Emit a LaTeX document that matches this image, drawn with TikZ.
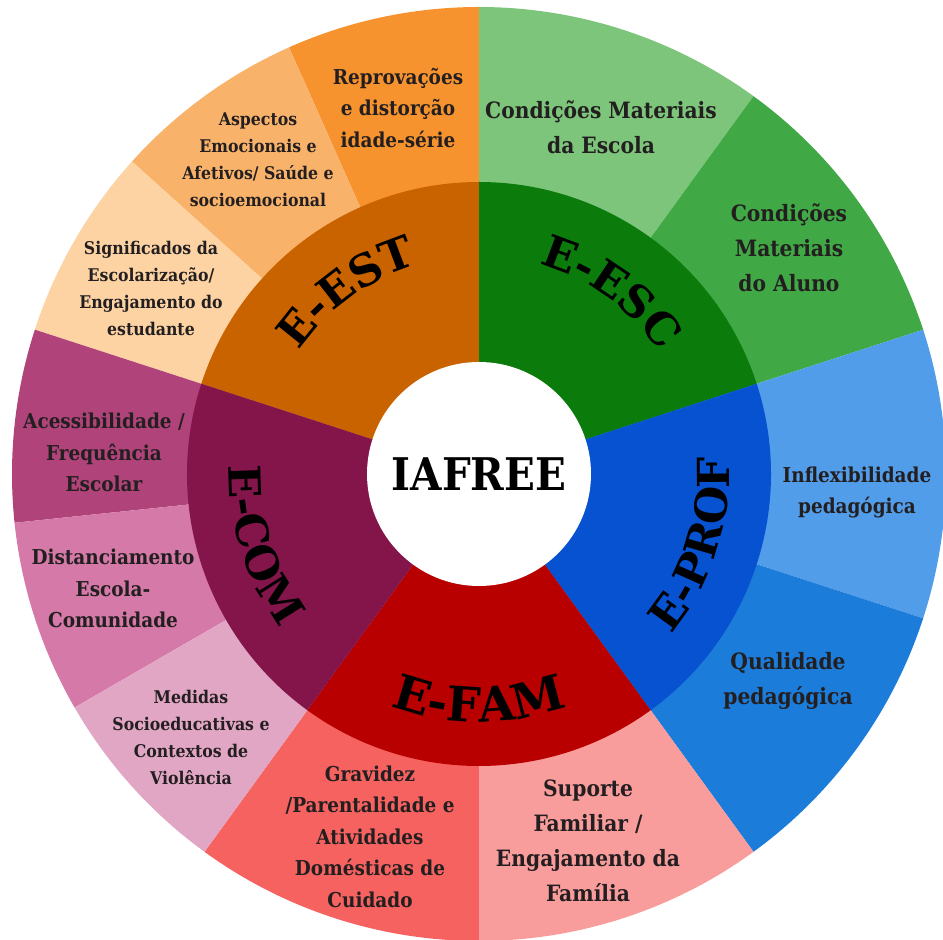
\documentclass[tikz,border=0pt]{standalone}
\usepackage{fontspec}
\setmainfont{DejaVu Serif}
\newfontfamily\condfont{DejaVu Serif Condensed}
\usetikzlibrary{decorations.text}
\definecolor{tcol}{HTML}{231F20}
\definecolor{estA}{HTML}{F7932E}
\definecolor{estB}{HTML}{F9B26A}
\definecolor{estC}{HTML}{FDD3A4}
\definecolor{estI}{HTML}{C96300}
\definecolor{escA}{HTML}{7DC57A}
\definecolor{escB}{HTML}{40A845}
\definecolor{escI}{HTML}{0B7B0B}
\definecolor{profA}{HTML}{519DE9}
\definecolor{profB}{HTML}{1C7CDA}
\definecolor{profI}{HTML}{0652D1}
\definecolor{famA}{HTML}{F5625F}
\definecolor{famB}{HTML}{F99C9C}
\definecolor{famI}{HTML}{B80000}
\definecolor{comA}{HTML}{B0437A}
\definecolor{comB}{HTML}{D479A8}
\definecolor{comC}{HTML}{E2A6C5}
\definecolor{comI}{HTML}{83154B}
\newcommand\ringsec[4]{\fill[#1] (C) -- ++(#2:#4) arc[start angle=#2, end angle=#3, radius=#4] -- cycle;}
\newcommand\dimfont{\bfseries\fontsize{44}{44}\selectfont}
\newcommand\dimfontL{\bfseries\fontsize{48}{48}\selectfont}
\newcommand\dimlabel[5]{\path[decorate, decoration={text along path, text align=center, text={|#5|#4}}] ([shift={(C)}]#1:#3) arc[start angle=#1, end angle=#2, radius=#3];}
\begin{document}
\begin{tikzpicture}[x=1pt,y=1pt,
  big/.style={text=tcol, align=center, inner sep=0pt, font={\condfont\bfseries\fontsize{22.5}{35}\selectfont}},
  mid/.style={text=tcol, align=center, inner sep=0pt, font={\condfont\bfseries\fontsize{20.5}{31.5}\selectfont}},
  sml/.style={text=tcol, align=center, inner sep=0pt, font={\condfont\bfseries\fontsize{17.5}{27}\selectfont}}]
\useasboundingbox (0,0) rectangle (943,940);
\coordinate (C) at (479,466);
% outer ring
\ringsec{estA}{90}{114}{467pt}
\ringsec{estB}{114}{138}{467pt}
\ringsec{estC}{138}{162}{467pt}
\ringsec{escA}{54}{90}{467pt}
\ringsec{escB}{18}{54}{467pt}
\ringsec{profA}{-18}{18}{467pt}
\ringsec{profB}{-54}{-18}{467pt}
\ringsec{famA}{234}{270}{467pt}
\ringsec{famB}{270}{306}{467pt}
\ringsec{comA}{162}{186}{467pt}
\ringsec{comB}{186}{210}{467pt}
\ringsec{comC}{210}{234}{467pt}
% inner ring
\ringsec{estI}{90}{162}{292pt}
\ringsec{escI}{18}{90}{292pt}
\ringsec{profI}{-54}{18}{292pt}
\ringsec{famI}{234}{306}{292pt}
\ringsec{comI}{162}{234}{292pt}
% centre
\node[circle, fill=white, minimum size=224pt, inner sep=0pt] (core) at (C) {};
\node[text=black, font={\condfont\bfseries\fontsize{45}{50}\selectfont}] (iaf) at (C) {IAFREE};
% dimension labels, set along arcs
\dimlabel{170}{82}{218pt}{E-EST}{\dimfont}
\dimlabel{98}{10}{218pt}{E-ESC}{\dimfont}
\dimlabel{-62}{26}{250pt}{E-PROF}{\dimfont}
\dimlabel{226}{314}{248pt}{E-FAM}{\dimfontL}
\dimlabel{154}{242}{250pt}{E-COM}{\dimfont}
% outer labels
\node[mid] (rep) at (398,832) {Reprovações\\e distorção\\idade-série};
\node[sml] (asp) at (258,780) {Aspectos\\Emocionais e\\Afetivos/ Saúde e\\socioemocional};
\node[sml] (sig) at (151,652) {Significados da\\Escolarização/\\Engajamento do\\estudante};
\node[big] (cme) at (601,812.5) {Condições Materiais\\da Escola};
\node[big] (cma) at (789,692) {Condições\\Materiais\\do Aluno};
\node[mid] (inf) at (857,447.5) {Inflexibilidade\\pedagógica};
\node[big] (qual) at (788,259.5) {Qualidade\\pedagógica};
\node[big] (sup) at (588,99.5) {Suporte\\Familiar /\\Engajamento da\\Família};
\node[mid] (grav) at (370,103.5) {Gravidez\\/Parentalidade e\\Atividades\\Domésticas de\\Cuidado};
\node[sml] (med) at (191,203) {Medidas\\Socioeducativas e\\Contextos de\\Violência};
\node[mid] (acc) at (104,487.5) {Acessibilidade /\\Frequência\\Escolar};
\node[mid] (dist) at (113,351.5) {Distanciamento\\Escola-\\Comunidade};
\end{tikzpicture}
\end{document}
